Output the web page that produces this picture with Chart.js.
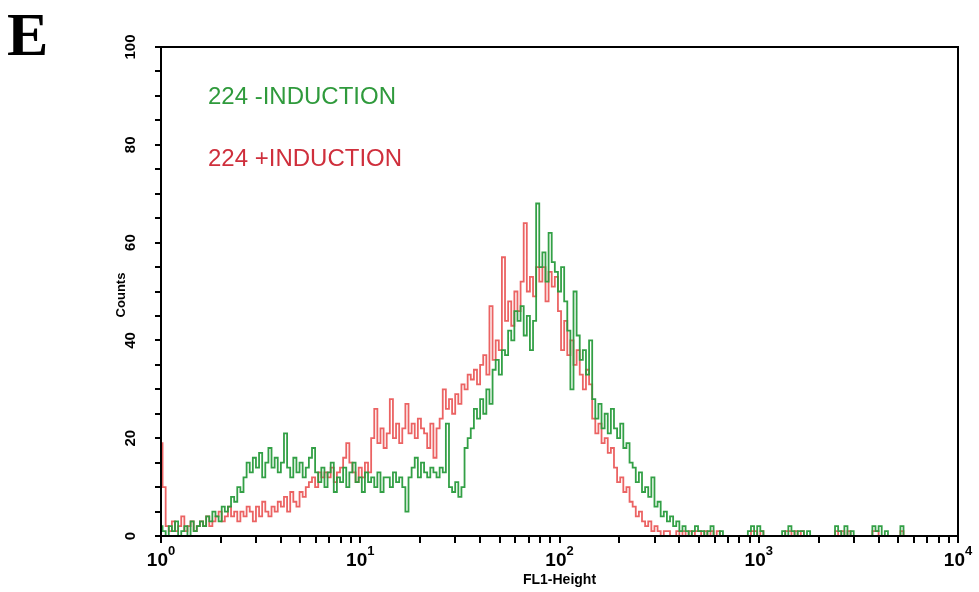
<!DOCTYPE html>
<html>
<head>
<meta charset="utf-8">
<script src="https://cdn.jsdelivr.net/npm/chart.js@4.4.0/dist/chart.umd.min.js"></script>
<style>
html, body { margin: 0; padding: 0; background: #fff; }
#wrap { position: relative; width: 979px; height: 592px; }
</style>
</head>
<body>
<div id="wrap"><canvas id="histo" width="979" height="592"></canvas></div>
<script>
// histogram channels: 64 per decade, 4 decades (10^0 .. 10^4)
const channelsPerDecade = 64;

// 224 -INDUCTION (green), counts per channel
const greenCounts = [
  2,1,0,2,1,3,0,1,2,0,3,1,2,
  3,2,4,3,5,4,3,6,5,6,
  8,7,10,9,12,15,
  13,16,14,17,12,15,18,
  14,16,13,15,21,
  14,12,16,13,15,12,14,16,
  18,13,
  11,14,10,13,15,9,12,11,
  14,10,13,15,11,12,9,13,
  11,12,10,13,9,12,
  12,10,13,11,12,10,5,12,
  14,16,12,15,13,
  12,14,13,12,14,13,
  23,
  10,9,11,8,10,
  18,20,22,26,24,
  28,25,30,27,
  34,36,33,38,37,
  42,40,46,44,
  47,41,45,38,44,
  68,
  55,58,52,62,56,
  54,50,55,48,
  42,30,50,
  41,36,38,33,40,
  28,24,27,22,25,21,26,
  22,20,23,18,19,15,
  14,11,13,9,10,
  8,12,
  6,7,4,5,
  3,4,2,3,1,
  2,1,0,1,2,1,1,0,
  1,2,0,0,1,0,0,0,
  0,0,0,0,0,1,2,0,
  2,1,0,0,0,0,0,0,
  1,0,2,1,0,1,1,0,
  1,0,0,0,0,0,0,0,
  0,2,1,0,2,0,1,0,
  0,0,0,0,0,2,1,2,
  0,1,0,0,0,0,2,0,
  0,0,0,0,0,0,0,0,
  0,0,0,0,0,0,0,0
];

// 224 +INDUCTION (red)
const redCounts = [
  19,10,2,1,3,1,2,4,1,2,3,1,2,
  3,2,4,2,3,4,
  5,3,4,6,4,5,3,5,4,6,
  5,3,6,4,7,5,4,6,5,
  7,6,8,5,9,7,6,9,8,10,
  11,12,10,13,12,
  13,12,14,11,13,14,
  16,19,15,
  13,11,14,12,
  15,13,20,
  26,
  19,22,18,21,
  28,
  20,23,19,22,
  27,
  21,23,20,24,22,21,
  18,23,16,22,24,
  30,
  26,28,25,29,27,
  31,30,33,32,34,31,
  35,37,33,47,
  36,40,38,57,
  44,48,43,50,46,
  52,
  64,
  50,53,49,55,
  52,55,48,54,51,53,
  46,38,44,
  37,40,35,38,
  33,30,34,31,
  24,21,23,19,20,17,18,
  14,11,12,9,10,7,
  6,4,5,3,2,3,1,2,
  1,0,1,1,0,0,1,
  0,1,0,1,0,1,1,0,1,
  0,1,0,1,0,0,0,0,
  0,0,0,0,0,0,1,1,
  0,1,0,0,0,0,0,0,
  0,1,1,0,1,0,1,0,
  0,0,0,0,0,0,0,0,
  0,1,0,1,0,1,0,0,
  0,0,0,0,0,1,1,0,
  0,0,0,0,0,0,1,0,
  0,0,0,0,0,0,0,0,
  0,0,0,0,0,0,0,0
];

const seriesNames = ['224 -INDUCTION', '224 +INDUCTION'];
const yLabels = [0, 20, 40, 60, 80, 100];
const xDecades = [0, 1, 2, 3, 4];

function toPoints(counts) {
  return counts.map((c, i) => ({ x: Math.pow(10, i / channelsPerDecade), y: c }));
}

// extra text and frame drawn on top of the chart
const decorations = {
  id: 'decorations',
  afterDraw(chart) {
    const ctx = chart.ctx;
    const area = chart.chartArea;
    const xs = chart.scales.x;
    const ys = chart.scales.y;
    ctx.save();

    // frame
    ctx.strokeStyle = '#000';
    ctx.lineWidth = 2;
    ctx.strokeRect(area.left, area.top, area.right - area.left, area.bottom - area.top);

    ctx.fillStyle = '#000';
    // y labels, rotated
    yLabels.forEach(v => {
      ctx.save();
      ctx.translate(131, ys.getPixelForValue(v));
      ctx.rotate(-Math.PI / 2);
      ctx.font = 'bold 15px "Liberation Sans Narrow", "Liberation Sans", sans-serif';
      ctx.textAlign = 'center';
      ctx.textBaseline = 'middle';
      ctx.fillText(String(v), 0, 0);
      ctx.restore();
    });

    // y title
    ctx.save();
    ctx.translate(121, 295);
    ctx.rotate(-Math.PI / 2);
    ctx.font = 'bold 13px "Liberation Sans", sans-serif';
    ctx.textAlign = 'center';
    ctx.textBaseline = 'middle';
    ctx.fillText('Counts', 0, 0);
    ctx.restore();

    // x labels 10^n
    xDecades.forEach(d => {
      const px = xs.getPixelForValue(Math.pow(10, d));
      ctx.font = 'bold 19px "Liberation Sans Narrow", "Liberation Sans", sans-serif';
      const w1 = ctx.measureText('10').width;
      ctx.font = 'bold 13px "Liberation Sans Narrow", "Liberation Sans", sans-serif';
      const w2 = ctx.measureText(String(d)).width;
      const start = px - (w1 + w2) / 2;
      ctx.textAlign = 'left';
      ctx.textBaseline = 'alphabetic';
      ctx.font = 'bold 19px "Liberation Sans Narrow", "Liberation Sans", sans-serif';
      ctx.fillText('10', start, 566);
      ctx.font = 'bold 13px "Liberation Sans Narrow", "Liberation Sans", sans-serif';
      ctx.fillText(String(d), start + w1, 555);
    });

    // x title
    ctx.font = 'bold 14px "Liberation Sans Narrow", "Liberation Sans", sans-serif';
    ctx.textAlign = 'center';
    ctx.fillText('FL1-Height', (area.left + area.right) / 2, 584);

    // series names
    ctx.font = '24px "Liberation Sans", sans-serif';
    ctx.textAlign = 'left';
    ctx.textBaseline = 'middle';
    ctx.fillStyle = '#2f9a3c';
    ctx.fillText(seriesNames[0], 208, 97);
    ctx.fillStyle = '#cf2f3c';
    ctx.fillText(seriesNames[1], 208, 159);

    // panel letter
    ctx.fillStyle = '#000';
    ctx.font = 'bold 62px "Liberation Serif", serif';
    ctx.textBaseline = 'alphabetic';
    ctx.fillText('E', 7, 55);

    ctx.restore();
  }
};

new Chart(document.getElementById('histo'), {
  type: 'line',
  data: {
    datasets: [
      {
        label: seriesNames[0],
        data: toPoints(greenCounts),
        borderColor: 'rgba(40,155,60,0.95)',
        borderWidth: 1.8,
        pointRadius: 0,
        stepped: 'middle',
        fill: false
      },
      {
        label: seriesNames[1],
        data: toPoints(redCounts),
        borderColor: 'rgba(232,72,72,0.85)',
        borderWidth: 1.8,
        pointRadius: 0,
        stepped: 'middle',
        fill: false
      }
    ]
  },
  options: {
    responsive: false,
    animation: false,
    devicePixelRatio: 1,
    parsing: false,
    layout: { padding: { left: 0, top: 47, right: 21, bottom: 0 } },
    plugins: { legend: { display: false }, tooltip: { enabled: false } },
    scales: {
      x: {
        type: 'logarithmic',
        min: 1,
        max: 10000,
        afterBuildTicks: (scale) => {
          const t = [];
          for (let e = 0; e < 4; e++) {
            for (let m = 1; m <= 9; m++) t.push({ value: m * Math.pow(10, e) });
          }
          t.push({ value: 10000 });
          scale.ticks = t;
        },
        afterFit: (scale) => { scale.height = 56; },
        ticks: { autoSkip: false, maxRotation: 0, callback: () => '' },
        grid: { drawOnChartArea: false, drawTicks: true, tickLength: 7, color: '#000', lineWidth: 2 },
        border: { display: true, color: '#000', width: 2 }
      },
      y: {
        min: 0,
        max: 100,
        afterFit: (scale) => { scale.width = 161; },
        ticks: { stepSize: 5, autoSkip: false, callback: () => '' },
        grid: { drawOnChartArea: false, drawTicks: true, tickLength: 6, color: '#000', lineWidth: 2 },
        border: { display: true, color: '#000', width: 2 }
      }
    }
  },
  plugins: [decorations]
});
</script>
</body>
</html>
